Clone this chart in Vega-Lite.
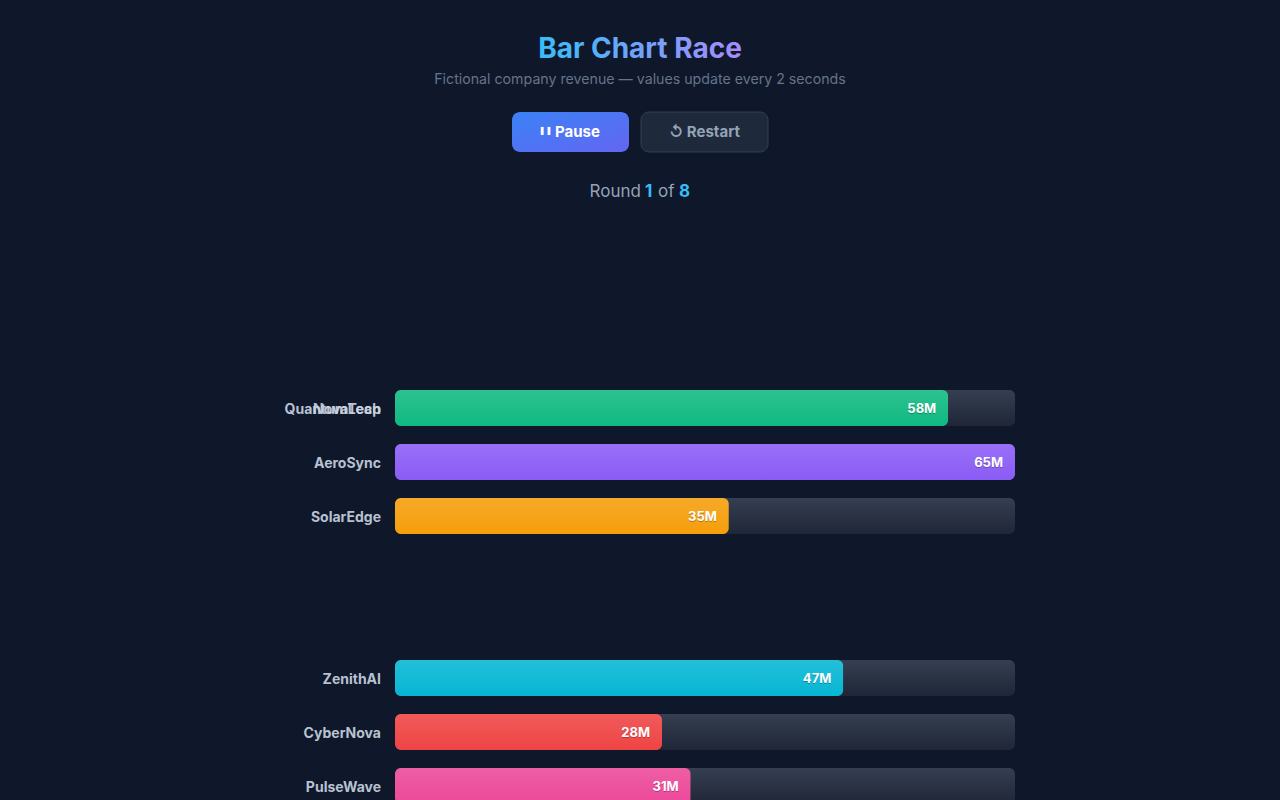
{
  "$schema": "https://vega.github.io/schema/vega-lite/v6.json",
  "width": 1280,
  "height": 800,
  "autosize": {"type": "none"},
  "padding": 0,
  "background": "#0f172a",
  "config": {"view": {"stroke": null}, "font": "Inter"},
  "layer": [
    {
      "data": {"values": [{"title": "Bar Chart Race"}]},
      "mark": {"type": "text", "font": "Inter", "fontSize": 28, "fontWeight": "bold", "align": "center", "baseline": "alphabetic",
        "fill": {"gradient": "linear", "x1": 0, "y1": 0, "x2": 1, "y2": 0, "stops": [{"offset": 0, "color": "#38bdf8"}, {"offset": 1, "color": "#a78bfa"}]}},
      "encoding": {
        "text": {"field": "title"},
        "y": {"datum": "title", "type": "nominal", "scale": {"type": "band", "domain": ["title"], "range": [58, 58]}, "axis": null}
      }
    },
    {
      "data": {"values": [{"subtitle": "Fictional company revenue — values update every 2 seconds"}]},
      "mark": {"type": "text", "font": "Inter", "fontSize": 14.2, "align": "center", "baseline": "alphabetic", "fill": "#64748b"},
      "encoding": {
        "text": {"field": "subtitle"},
        "y": {"datum": "subtitle", "type": "nominal", "scale": {"type": "band", "domain": ["subtitle"], "range": [84, 84]}, "axis": null}
      }
    },
    {
      "data": {"values": [{"button": "Pause", "label": "Pause"}]},
      "encoding": {
        "x": {"field": "button", "type": "nominal", "scale": {"type": "band", "domain": ["Pause"], "range": [512, 629], "paddingInner": 0, "paddingOuter": 0}, "axis": null},
        "y": {"datum": "controls", "type": "nominal", "scale": {"type": "band", "domain": ["controls"], "range": [112, 152], "paddingInner": 0, "paddingOuter": 0}, "axis": null}
      },
      "layer": [
        {"mark": {"type": "rect", "cornerRadius": 8,
          "fill": {"gradient": "linear", "x1": 0, "y1": 0, "x2": 1, "y2": 1, "stops": [{"offset": 0, "color": "#3b82f6"}, {"offset": 1, "color": "#6366f1"}]}}},
        {"mark": {"type": "text", "text": "❚❚", "font": "DejaVu Sans", "fontSize": 8, "fill": "#ffffff", "align": "center", "baseline": "middle", "dx": -25, "dy": -1}},
        {"mark": {"type": "text", "font": "Inter", "fontSize": 15, "fontWeight": "bold", "fill": "#ffffff", "align": "center", "baseline": "middle", "dx": 7},
          "encoding": {"text": {"field": "label"}}}
      ]
    },
    {
      "data": {"values": [{"button": "Restart", "label": "↺ Restart"}]},
      "encoding": {
        "x": {"field": "button", "type": "nominal", "scale": {"type": "band", "domain": ["Restart"], "range": [641, 768], "paddingInner": 0, "paddingOuter": 0}, "axis": null},
        "y": {"datum": "controls", "type": "nominal", "scale": {"type": "band", "domain": ["controls"], "range": [112, 152], "paddingInner": 0, "paddingOuter": 0}, "axis": null}
      },
      "layer": [
        {"mark": {"type": "rect", "cornerRadius": 8, "fill": "#1e293b", "stroke": "#334155", "strokeWidth": 1}},
        {"mark": {"type": "text", "font": "Inter", "fontSize": 15, "fontWeight": "bold", "fill": "#94a3b8", "align": "center", "baseline": "middle"},
          "encoding": {"text": {"field": "label"}}}
      ]
    },
    {
      "data": {"values": [{"round": 1, "total": 8}]},
      "encoding": {
        "y": {"datum": "round", "type": "nominal", "scale": {"type": "band", "domain": ["round"], "range": [197, 197]}, "axis": null}
      },
      "layer": [
        {"mark": {"type": "text", "text": "Round", "font": "Inter", "fontSize": 17, "fill": "#94a3b8", "align": "right", "baseline": "alphabetic", "dx": 1}},
        {"mark": {"type": "text", "font": "Inter", "fontSize": 17, "fontWeight": "bold", "fill": "#38bdf8", "align": "left", "baseline": "alphabetic", "dx": 5},
          "encoding": {"text": {"field": "round"}}},
        {"mark": {"type": "text", "text": "of", "font": "Inter", "fontSize": 17, "fill": "#94a3b8", "align": "left", "baseline": "alphabetic", "dx": 18}},
        {"mark": {"type": "text", "font": "Inter", "fontSize": 17, "fontWeight": "bold", "fill": "#38bdf8", "align": "left", "baseline": "alphabetic", "dx": 39},
          "encoding": {"text": {"field": "total"}}}
      ]
    },
    {
      "data": {"values": [
        {"company": "QuantumLeap", "slot": 4, "revenue": null},
        {"company": "NovaTech", "slot": 4, "revenue": 58000000},
        {"company": "AeroSync", "slot": 5, "revenue": 65000000},
        {"company": "SolarEdge", "slot": 6, "revenue": 35000000},
        {"company": "ZenithAI", "slot": 9, "revenue": 47000000},
        {"company": "CyberNova", "slot": 10, "revenue": 28000000},
        {"company": "PulseWave", "slot": 11, "revenue": 31000000}
      ]},
      "encoding": {
        "y": {"field": "slot", "type": "ordinal", "scale": {"type": "band", "domain": [1, 2, 3, 4, 5, 6, 7, 8, 9, 10, 11], "range": [228, 804], "paddingInner": 0.33333, "paddingOuter": 0}, "axis": null}
      },
      "layer": [
        {
          "mark": {"type": "bar", "cornerRadius": 6,
            "fill": {"gradient": "linear", "x1": 0, "y1": 0, "x2": 0, "y2": 1, "stops": [{"offset": 0, "color": "#363f51"}, {"offset": 1, "color": "#1e2637"}]}},
          "encoding": {
            "x": {"datum": 0, "type": "quantitative", "scale": {"domain": [0, 65000000], "range": [395, 1015], "nice": false, "zero": false}, "axis": null},
            "x2": {"datum": 65000000}
          }
        },
        {
          "mark": {"type": "bar", "cornerRadius": 6},
          "encoding": {
            "x": {"field": "revenue", "type": "quantitative", "scale": {"domain": [0, 65000000], "range": [395, 1015], "nice": false, "zero": false}, "axis": null},
            "color": {"field": "company", "type": "nominal", "legend": null,
              "scale": {"domain": ["QuantumLeap", "NovaTech", "AeroSync", "SolarEdge", "ZenithAI", "CyberNova", "PulseWave"],
                        "range": ["#3b82f6", "#10b981", "#8b5cf6", "#f59e0b", "#06b6d4", "#ef4444", "#ec4899"]}}
          }
        },
        {
          "mark": {"type": "bar", "cornerRadius": 6,
            "fill": {"gradient": "linear", "x1": 0, "y1": 0, "x2": 0, "y2": 1, "stops": [{"offset": 0, "color": "rgba(255,255,255,0.12)"}, {"offset": 1, "color": "rgba(255,255,255,0)"}]}},
          "encoding": {
            "x": {"field": "revenue", "type": "quantitative", "axis": null}
          }
        },
        {
          "mark": {"type": "text", "font": "Inter", "fontSize": 13, "fontWeight": "bold", "fill": "rgba(0,0,0,0.3)", "align": "right", "baseline": "middle", "dx": -12, "dy": 2},
          "encoding": {
            "x": {"field": "revenue", "type": "quantitative", "axis": null},
            "text": {"field": "revenue", "type": "quantitative", "format": "~s"}
          }
        },
        {
          "mark": {"type": "text", "font": "Inter", "fontSize": 13, "fontWeight": "bold", "fill": "#ffffff", "align": "right", "baseline": "middle", "dx": -12, "dy": 1},
          "encoding": {
            "x": {"field": "revenue", "type": "quantitative", "axis": null},
            "text": {"field": "revenue", "type": "quantitative", "format": "~s"}
          }
        },
        {
          "mark": {"type": "text", "font": "Inter", "fontSize": 14, "fontWeight": "bold", "fill": "#cbd5e1", "opacity": 0.9, "align": "right", "baseline": "middle", "dx": -14, "dy": 2},
          "encoding": {
            "x": {"datum": 0, "type": "quantitative", "axis": null},
            "text": {"field": "company"}
          }
        }
      ]
    }
  ],
  "resolve": {"scale": {"x": "independent", "y": "independent", "color": "independent"}}
}
